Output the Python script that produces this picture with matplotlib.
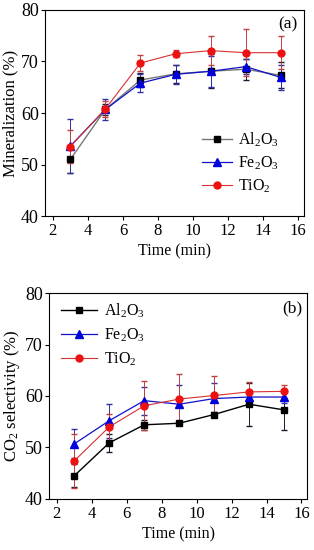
import numpy as np
import matplotlib
matplotlib.use('Agg')
import matplotlib.pyplot as plt

plt.rcParams['font.family'] = 'Liberation Serif'
plt.rcParams['mathtext.fontset'] = 'custom'
plt.rcParams['mathtext.rm'] = 'Liberation Serif'
plt.rcParams['mathtext.it'] = 'Liberation Serif:italic'

t = [3, 5, 7, 9, 11, 13, 15]
labels = ['Al$_2$O$_3$', 'Fe$_2$O$_3$', 'TiO$_2$']

# (a) mineralization
min_al = [51.0, 60.7, 66.4, 67.6, 68.1, 68.5, 67.3]
min_al_err = [2.6, 1.0, 1.3, 1.8, 3.3, 2.0, 2.5]
min_fe = [53.6, 60.7, 65.8, 67.5, 68.1, 69.0, 66.9]
min_fe_err = [5.2, 2.0, 1.8, 1.8, 3.0, 1.5, 2.5]
min_ti = [53.5, 60.8, 69.7, 71.5, 72.1, 71.7, 71.7]
min_ti_err = [3.2, 1.5, 1.5, 0.7, 2.8, 4.6, 3.2]

# (b) CO2 selectivity
sel_al = [44.5, 50.9, 54.4, 54.7, 56.4, 58.4, 57.3]
sel_al_err = [2.2, 1.7, 1.0, 0.4, 0.4, 4.2, 3.9]
sel_fe = [50.7, 55.2, 59.1, 58.4, 59.5, 59.8, 59.8]
sel_fe_err = [2.8, 3.3, 2.7, 3.8, 3.1, 0.5, 1.2]
sel_ti = [47.4, 54.0, 58.1, 59.4, 60.1, 60.8, 60.9]
sel_ti_err = [5.2, 2.5, 4.8, 4.9, 3.8, 2.0, 1.2]

fig = plt.figure(figsize=(3.14, 5.5), dpi=100)
ax1 = fig.add_axes([0.143, 0.607, 0.825, 0.375])
ax2 = fig.add_axes([0.156, 0.093, 0.822, 0.374])

def draw(ax, al, ale, fe, fee, ti, tie, al_line):
    ax.errorbar(t, al, yerr=ale, color=al_line, ecolor='#1a1a2e', lw=1.0, elinewidth=0.7,
                capsize=2, marker='s', ms=4.5, mfc='black', mec='black', label=labels[0])
    ax.errorbar(t, fe, yerr=fee, color='#1010c8', ecolor='#3030a0', lw=0.9, elinewidth=0.7,
                capsize=2, marker='^', ms=5.5, mfc='#0000dd', mec='#0000dd', label=labels[1])
    ax.errorbar(t, ti, yerr=tie, color='#d83030', ecolor='#c04040', lw=0.8, elinewidth=0.7,
                capsize=2, marker='o', ms=5, mfc='#ee1111', mec='#ee1111', label=labels[2])
    ax.set_xlim(1.55, 16.32)
    ax.set_ylim(40, 80)
    ax.set_xticks(np.arange(2, 17, 2))
    ax.set_yticks(np.arange(40, 81, 10))
    ax.tick_params(axis='y', labelsize=13, direction='out', length=3, width=0.8, pad=1.5)
    ax.tick_params(axis='x', labelsize=12, direction='out', length=3, width=0.8, pad=2)
    ax.set_xlabel('Time (min)', fontsize=11.5, labelpad=3)
    for s in ax.spines.values():
        s.set_linewidth(0.8)

draw(ax1, min_al, min_al_err, min_fe, min_fe_err, min_ti, min_ti_err, '#777777')
ax1.set_ylabel('Mineralization (%)', fontsize=12, labelpad=2)
ax1.text(0.975, 0.93, '(a)', transform=ax1.transAxes, ha='right', va='center', fontsize=12.5)
h, l = ax1.get_legend_handles_labels()
h = [x[0] for x in h]
ax1.legend(h, l, loc='lower right', bbox_to_anchor=(0.93, 0.07), frameon=False, fontsize=11.5,
           handlelength=1.9, handletextpad=0.4, labelspacing=0.35, borderaxespad=0.0)

draw(ax2, sel_al, sel_al_err, sel_fe, sel_fe_err, sel_ti, sel_ti_err, 'black')
ax2.set_ylabel('CO$_2$ selectivity (%)', fontsize=12, labelpad=2)
ax2.text(0.98, 0.927, '(b)', transform=ax2.transAxes, ha='right', va='center', fontsize=12.5)
h, l = ax2.get_legend_handles_labels()
h = [x[0] for x in h]
ax2.legend(h, l, loc='upper left', bbox_to_anchor=(0.02, 0.99), frameon=False, fontsize=11.5,
           handlelength=2.3, handletextpad=0.4, labelspacing=0.4, borderaxespad=0.0)

fig.savefig('out.png', dpi=100)
